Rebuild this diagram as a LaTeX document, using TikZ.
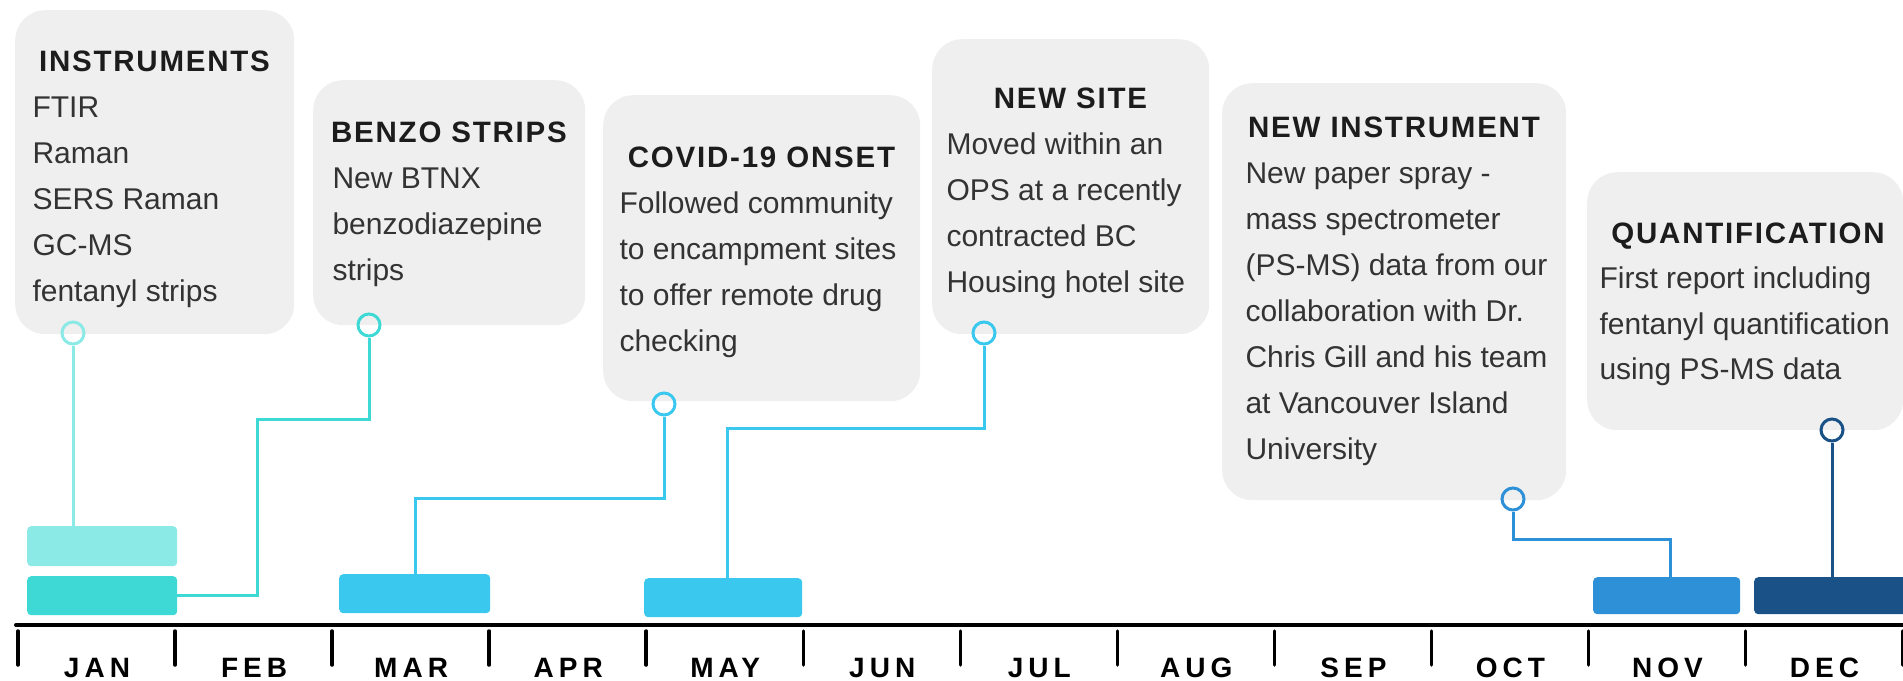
\documentclass[tikz,border=0pt]{standalone}
\usepackage{fontspec}
\setmainfont{Liberation Sans}
\newfontfamily\headfont[LetterSpace=6]{Liberation Sans}
\newfontfamily\monthfont[LetterSpace=18]{Liberation Sans}
\usetikzlibrary{positioning}
\definecolor{ink}{HTML}{333333}
\definecolor{headink}{HTML}{1C1C1C}
\definecolor{cardgray}{HTML}{EFEFEF}
\definecolor{mint}{HTML}{8BE9E6}
\definecolor{aqua}{HTML}{3ED9D5}
\definecolor{sky}{HTML}{3AC8EE}
\definecolor{azure}{HTML}{2E90D6}
\definecolor{navy}{HTML}{1A5287}

\begin{document}
\begin{tikzpicture}[x=1pt,y=-1pt,
 card/.style={fill=cardgray,rounded corners=30pt,inner sep=0pt,anchor=north west},
 head/.style={anchor=base,text=headink,font=\headfont\bfseries\fontsize{29.5}{30}\selectfont},
 body/.style={anchor=base west,text=ink,font=\fontsize{30}{36}\selectfont},
 slab/.style={rounded corners=4pt,inner sep=0pt,anchor=north west},
 bead/.style={circle,draw,line width=3pt,minimum size=22pt,inner sep=0pt},
 wire/.style={line width=3pt},
 monthlab/.style={anchor=base,text=black,font=\monthfont\bfseries\fontsize{28}{30}\selectfont}]
\useasboundingbox (0,0) rectangle (1903,680);

% cards
\node[card,minimum width=279pt,minimum height=324pt] (instr) at (15,10) {};
\node[head] (instr-t) at (154.5,71) {INSTRUMENTS};
\foreach \lab [count=\i] in {FTIR,Raman,SERS Raman,GC-MS,fentanyl strips}
 \node[body] (instr-\i) at (29,71+46*\i) {\lab};

\node[card,minimum width=272pt,minimum height=245pt] (benzo) at (313,80) {};
\node[head] (benzo-t) at (449,142) {BENZO STRIPS};
\foreach \lab [count=\i] in {New BTNX,benzodiazepine,strips}
 \node[body] (benzo-\i) at (329,142+46*\i) {\lab};

\node[card,minimum width=317pt,minimum height=306pt] (covid) at (603,95) {};
\node[head] (covid-t) at (761.5,167) {COVID-19 ONSET};
\foreach \lab [count=\i] in {Followed community,to encampment sites,to offer remote drug,checking}
 \node[body] (covid-\i) at (616,167+46*\i) {\lab};

\node[card,minimum width=277pt,minimum height=295pt] (site) at (932,39) {};
\node[head] (site-t) at (1070.5,108) {NEW SITE};
\foreach \lab [count=\i] in {Moved within an,OPS at a recently,contracted BC,Housing hotel site}
 \node[body] (site-\i) at (943,108+46*\i) {\lab};

\node[card,minimum width=344pt,minimum height=417pt] (psms) at (1222,83) {};
\node[head] (psms-t) at (1394,137) {NEW INSTRUMENT};
\foreach \lab [count=\i] in {New paper spray -,mass spectrometer,(PS-MS) data from our,collaboration with Dr.,Chris Gill and his team,at Vancouver Island,University}
 \node[body] (psms-\i) at (1242,137+46*\i) {\lab};

\node[card,minimum width=316pt,minimum height=258pt] (quant) at (1587,172) {};
\node[head] (quant-t) at (1748,243) {QUANTIFICATION};
\foreach \lab [count=\i] in {First report including,fentanyl quantification,using PS-MS data}
 \node[body] (quant-\i) at (1596,243+45.5*\i) {\lab};

% bars
\foreach \name/\col/\x/\y/\w/\h in {janA/mint/27/526/150/40,janB/aqua/27/576/150/39,
  mar/sky/339/574/151/39,may/sky/644/578/158/39,nov/azure/1593/577/147/37,dec/navy/1754/577/160/37}
 \node[slab,fill=\col,minimum width=\w pt,minimum height=\h pt] (\name) at (\x,\y) {};

% pins and connectors
\node[bead,draw=mint] (pin1) at (73,333) {};
\node[bead,draw=aqua] (pin2) at (369,325) {};
\node[bead,draw=sky] (pin3) at (664,404) {};
\node[bead,draw=sky] (pin4) at (984,333) {};
\node[bead,draw=azure] (pin5) at (1513,499) {};
\node[bead,draw=navy] (pin6) at (1832,430) {};
\coordinate (bend2) at (257,419);
\coordinate (bend3) at (415,498);
\coordinate (bend4) at (727,428);
\coordinate (bend5) at (1670,539);

\draw[wire,mint] (pin1) -- (pin1 |- janA.north);
\draw[wire,aqua] (pin2) |- (bend2) |- (janB.east);
\draw[wire,sky] (pin3) |- (bend3) -- (bend3 |- mar.north);
\draw[wire,sky] (pin4) |- (bend4) -- (bend4 |- may.north);
\draw[wire,azure] (pin5) |- (bend5) -- (bend5 |- nov.north);
\draw[wire,navy] (pin6) -- (pin6 |- dec.north);

% axis
\draw[line width=4pt,line cap=round] (16,625) -- (1910,625);
\foreach \k in {0,...,12}
 \draw[line width=3.5pt,line cap=round] (18+157.05*\k,631) -- (18+157.05*\k,665);
\foreach \m [count=\k from 0] in {JAN,FEB,MAR,APR,MAY,JUN,JUL,AUG,SEP,OCT,NOV,DEC}
 \node[monthlab] (m-\m) at (97+157.05*\k,677) {\m};
\end{tikzpicture}
\end{document}
